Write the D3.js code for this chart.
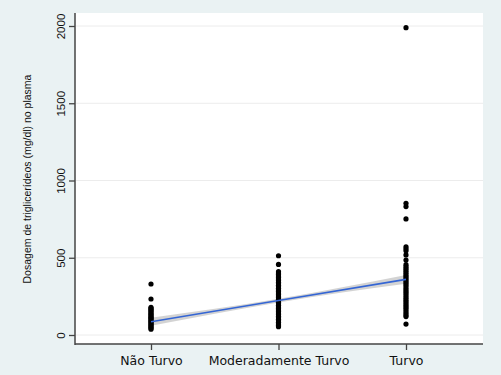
<!DOCTYPE html>
<html>
<head>
<meta charset="utf-8">
<script src="https://cdn.jsdelivr.net/npm/d3@7"></script>
<style>
  body { margin: 0; background: #eaf2f3; }
  svg { display: block; }
</style>
</head>
<body>
<svg id="chart"></svg>
<script>
const categories = ["Não Turvo", "Moderadamente Turvo", "Turvo"];
const naoTurvo = [330, 233, 179, 172, 165, 158, 150, 143, 136, 129, 122, 115, 108, 101, 94, 87, 80, 73, 66, 59, 52, 45, 38];
const moderado = [513, 457, 410, 401, 392, 382, 372, 362, 352, 342, 332, 322, 312, 302, 292, 282, 272, 262, 252, 242, 232, 222, 212, 202, 192, 182, 172, 162, 152, 142, 132, 122, 112, 102, 92, 82, 72, 62, 54];
const turvo = [1989, 852, 831, 751, 571, 558, 545, 518, 485, 455, 442, 430, 418, 405, 392, 380, 368, 355, 342, 330, 318, 305, 292, 280, 268, 255, 242, 230, 218, 205, 192, 180, 168, 155, 142, 130, 119, 71];
const fitY = [86, 223, 360];
const ciLow = [60, 211, 331];
const ciHigh = [112, 235, 389];
const yTicks = [0, 500, 1000, 1500, 2000];

const width = 501, height = 375;
const svg = d3.select("#chart").attr("width", width).attr("height", height);

const x = d3.scalePoint().domain([0, 1, 2]).range([151, 406]);
const y = d3.scaleLinear().domain([0, 2000]).range([335, 26]);

// plot area
svg.append("rect")
  .attr("x", 75).attr("y", 13)
  .attr("width", 408).attr("height", 331)
  .attr("fill", "#fff");

// grid
svg.append("g")
  .selectAll("line")
  .data(yTicks)
  .join("line")
  .attr("x1", 76).attr("x2", 483)
  .attr("y1", d => y(d)).attr("y2", d => y(d))
  .attr("stroke", "#ececec");

// ci band
const band = [0, 1, 2].map(i => ({ i, lo: ciLow[i], hi: ciHigh[i] }));
svg.append("path")
  .datum(band)
  .attr("fill", "#c8c8c8")
  .attr("opacity", 0.8)
  .attr("d", d3.area()
    .x(d => x(d.i))
    .y0(d => y(d.lo))
    .y1(d => y(d.hi))
    .curve(d3.curveMonotoneX));

// points
const series = [naoTurvo, moderado, turvo];
series.forEach((vals, i) => {
  svg.append("g")
    .selectAll("circle")
    .data(vals)
    .join("circle")
    .attr("cx", x(i))
    .attr("cy", d => y(d))
    .attr("r", 2.6)
    .attr("fill", "#000");
});

// fit line
svg.append("path")
  .datum(fitY)
  .attr("fill", "none")
  .attr("stroke", "#3465d4")
  .attr("stroke-width", 1.6)
  .attr("d", d3.line().x((d, i) => x(i)).y(d => y(d)));

// axes
const yAxis = svg.append("g")
  .attr("transform", "translate(75,0)")
  .call(d3.axisLeft(y).tickValues(yTicks).tickSize(6).tickFormat(d3.format("d")));
yAxis.select(".domain").remove();
yAxis.selectAll(".tick line").attr("stroke", "#444").attr("stroke-width", 1.3);
yAxis.selectAll(".tick text")
  .attr("transform", "rotate(-90)")
  .attr("x", 0).attr("y", -10)
  .attr("dy", 0)
  .attr("text-anchor", "middle")
  .style("font-family", "Liberation Sans, Arial, sans-serif")
  .style("font-size", "11.5px")
  .attr("fill", "#111");

const xAxis = svg.append("g")
  .attr("transform", "translate(0,344)")
  .call(d3.axisBottom(x).tickSize(6).tickFormat(i => categories[i]));
xAxis.select(".domain").remove();
xAxis.selectAll(".tick line").attr("stroke", "#444").attr("stroke-width", 1.3);
xAxis.selectAll(".tick text")
  .attr("y", 12)
  .style("font-family", "DejaVu Sans, sans-serif")
  .style("font-size", "12.5px")
  .attr("fill", "#111");

svg.append("line")
  .attr("x1", 75).attr("x2", 75).attr("y1", 13).attr("y2", 345)
  .attr("stroke", "#444").attr("stroke-width", 1.5);
svg.append("line")
  .attr("x1", 75).attr("x2", 483).attr("y1", 344).attr("y2", 344)
  .attr("stroke", "#444").attr("stroke-width", 1.5);

svg.append("text")
  .attr("transform", "translate(31,179) rotate(-90)")
  .attr("text-anchor", "middle")
  .style("font-family", "Liberation Sans, Arial, sans-serif")
  .style("font-size", "10.5px")
  .attr("fill", "#111")
  .text("Dosagem de triglicerídeos (mg/dl) no plasma");
</script>
</body>
</html>
